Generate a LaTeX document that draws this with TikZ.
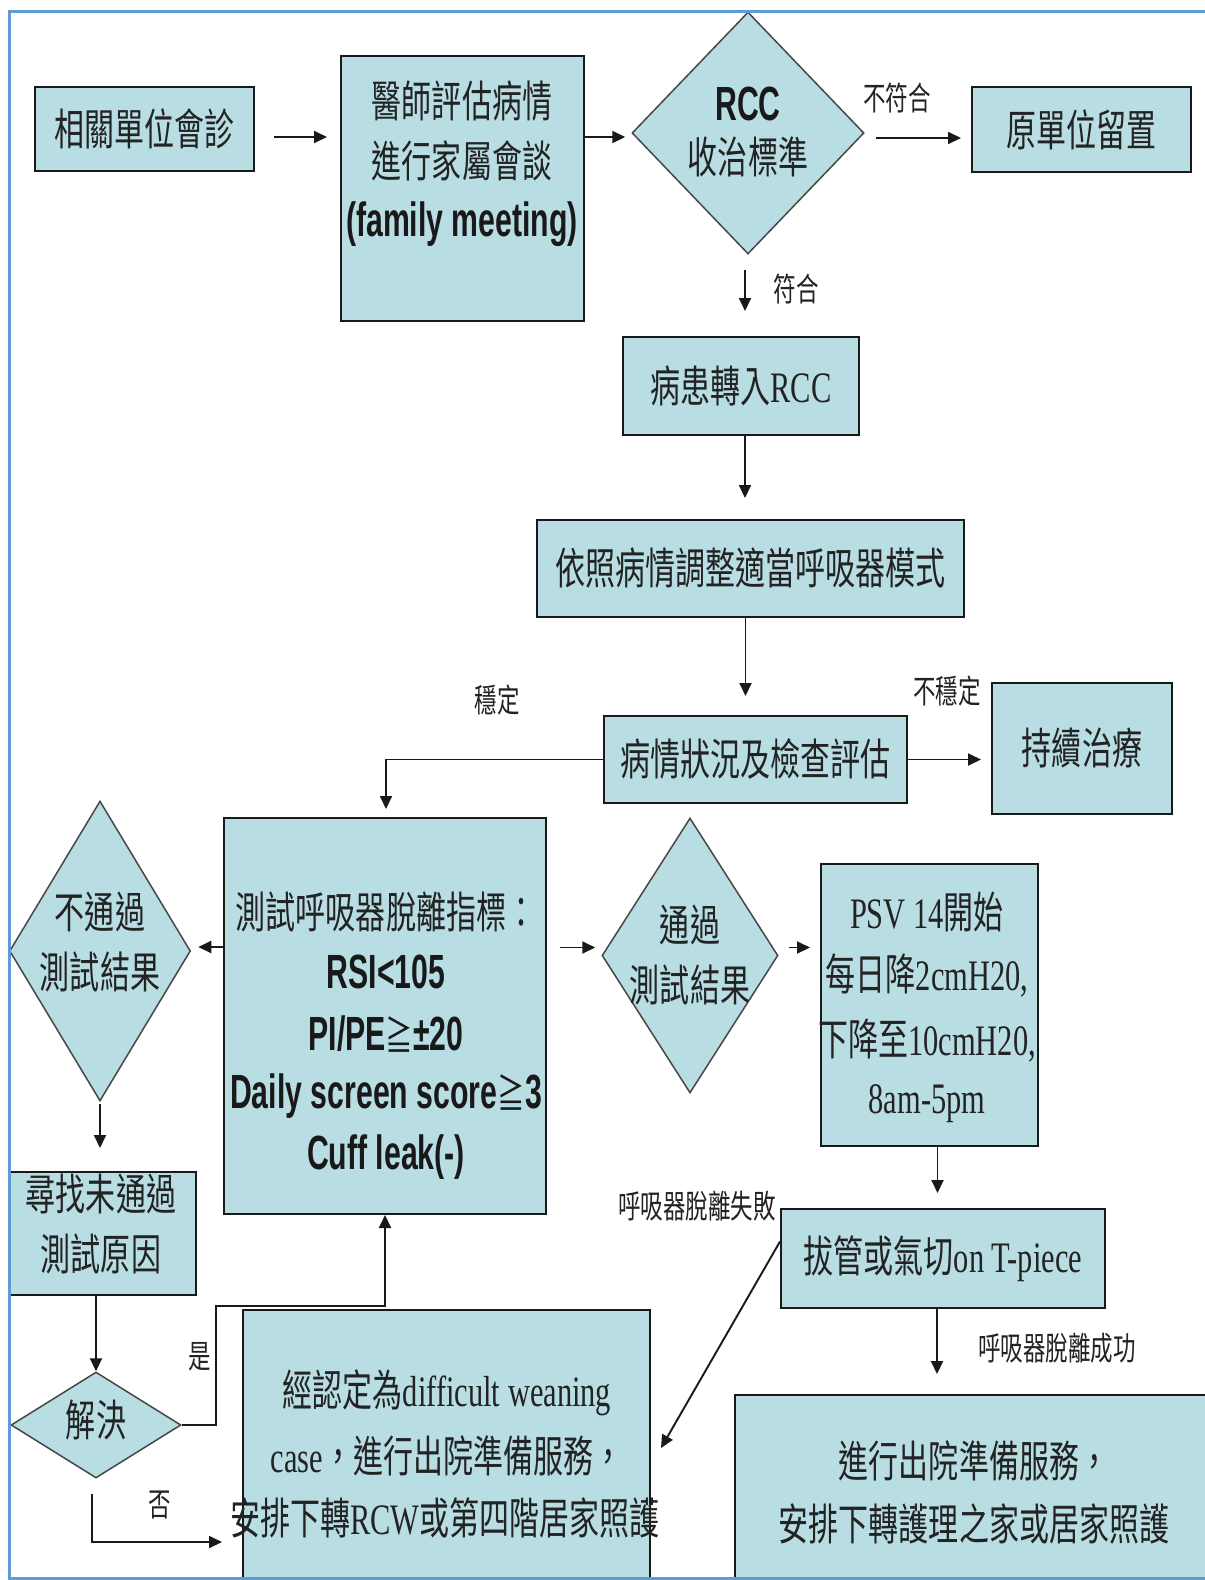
\documentclass[tikz,border=0pt]{standalone}
\usepackage{fontspec}
\setmainfont{Liberation Serif}
\newfontfamily\cjk{Noto Sans CJK TC}[FakeStretch=0.69]
\newfontfamily\latn{Liberation Serif}[FakeStretch=0.7]
\newfontfamily\sanb{Liberation Sans}[FakeStretch=0.63]
\usetikzlibrary{arrows.meta,shapes.geometric,calc}
\definecolor{boxfill}{RGB}{184,222,228}
\definecolor{framec}{RGB}{95,155,215}
\definecolor{ink}{RGB}{25,25,25}
\definecolor{txtc}{RGB}{35,35,35}
\newcommand{\fMain}{\fontsize{43.5}{62}\selectfont}
\newcommand{\fSans}{\fontsize{48}{62}\selectfont}
\newcommand{\fLab}{\fontsize{32.6}{40}\selectfont}
\newcommand{\geqc}{{\cjk\mdseries\fontsize{40}{62}\selectfont ≧}}
\begin{document}
\begin{tikzpicture}[x=1pt,y=-1pt,
  box/.style={draw=ink, line width=2pt, fill=boxfill, rectangle, inner sep=0, text=txtc},
  dia/.style={draw=ink!80, line width=1.5pt, fill=boxfill, diamond, inner sep=0},
  tx/.style={inner sep=0, text=txtc, font=\cjk\fMain},
  sx/.style={inner sep=0, text=ink, font=\sanb\bfseries\fSans},
  lb/.style={inner sep=0, text=txtc, font=\cjk\fLab},
  arr/.style={draw=ink, line width=1.9pt, -{Triangle[length=13pt,width=12pt]}}]
\useasboundingbox (0,0) rectangle (1205,1580);
\fill[white] (0,0) rectangle (1205,1580);

% shapes
\node[box, minimum width=219pt, minimum height=84pt, font=\cjk\fMain] (n1) at (144.5,129) {相關單位會診};
\node[box, minimum width=243pt, minimum height=265pt] (n2) at (462.5,188.5) {};
\node[dia, minimum width=232pt, minimum height=242pt] (d1) at (748,133) {};
\node[box, minimum width=219pt, minimum height=85pt, font=\cjk\fMain] (n4) at (1081.5,129.5) {原單位留置};
\node[box, minimum width=236pt, minimum height=98pt, font=\cjk\fMain] (n6) at (741,386) {病患轉入{\latn RCC}};
\node[box, minimum width=427pt, minimum height=97pt, font=\cjk\fMain] (n8) at (750.5,568.5) {依照病情調整適當呼吸器模式};
\node[box, minimum width=303pt, minimum height=87pt, font=\cjk\fMain] (n10) at (755.5,759.5) {病情狀況及檢查評估};
\node[box, minimum width=180pt, minimum height=131pt, font=\cjk\fMain] (n11) at (1082,748.5) {持續治療};
\node[box, minimum width=322pt, minimum height=396pt] (n13) at (385,1016) {};
\node[dia, minimum width=181pt, minimum height=300pt] (d2) at (100,951) {};
\node[dia, minimum width=176pt, minimum height=275pt] (d3) at (690,955.5) {};
\node[box, minimum width=217pt, minimum height=282pt] (n24) at (929.5,1005) {};
\node[box, minimum width=186pt, minimum height=123pt] (n16) at (103,1233.5) {};
\node[dia, minimum width=170pt, minimum height=106pt] (d4) at (96,1425) {};
\node[box, minimum width=324pt, minimum height=99pt, font=\cjk\fMain] (n26) at (943,1258.5) {拔管或氣切{\latn on T-piece}};
\node[box, minimum width=407pt, minimum height=290pt] (n21) at (446.5,1455) {};
\node[box, minimum width=490pt, minimum height=215pt] (n28) at (980,1502.5) {};

% texts
\node[tx] (t2a) at (462,101) {醫師評估病情};
\node[tx] (t2b) at (462,161) {進行家屬會談};
\node[sx] (t2c) at (462,224) {(family meeting)};
\node[sx] (t3a) at (748,104) {RCC};
\node[tx] (t3b) at (748,157) {收治標準};
\node[tx] (t13a) at (386,912) {測試呼吸器脫離指標：};
\node[sx] (t13b) at (386,972) {RSI<105};
\node[sx] (t13c) at (386,1034) {PI/PE\geqc±20};
\node[sx] (t13d) at (386,1096) {Daily screen score\geqc3};
\node[sx] (t13e) at (386,1157) {Cuff leak(-)};
\node[tx] (t14a) at (100,912) {不通過};
\node[tx] (t14b) at (100,972) {測試結果};
\node[tx] (t23a) at (690,925) {通過};
\node[tx] (t23b) at (690,985) {測試結果};
\node[tx] (t24a) at (927,912) {{\latn PSV 14}開始};
\node[tx] (t24b) at (927,975) {每日降{\latn 2cmH20,}};
\node[tx] (t24c) at (927,1041) {下降至{\latn 10cmH20,}};
\node[tx] (t24d) at (927,1104) {{\latn 8am-5pm}};
\node[tx] (t16a) at (101,1194) {尋找未通過};
\node[tx] (t16b) at (101,1254) {測試原因};
\node[tx] (t18) at (96,1420) {解決};
\node[tx] (t21a) at (447,1393) {經認定為{\latn difficult weaning}};
\node[tx] (t21b) at (447,1456) {{\latn case}，進行出院準備服務，};
\node[tx] (t21c) at (445,1518) {安排下轉{\latn RCW}或第四階居家照護};
\node[tx] (t28a) at (974,1461) {進行出院準備服務，};
\node[tx] (t28b) at (974,1524) {安排下轉護理之家或居家照護};

% labels
\node[lb] (l1) at (897,98) {不符合};
\node[lb] (l2) at (796,289) {符合};
\node[lb] (l3) at (947,691) {不穩定};
\node[lb] (l4) at (497,700) {穩定};
\node[lb] (l5) at (697,1206) {呼吸器脫離失敗};
\node[lb] (l6) at (1057,1348) {呼吸器脫離成功};
\node[lb] (l7) at (200,1357) {是};
\node[lb] (l8) at (160,1505) {否};

% connectors
\draw[arr] ($(n1.east)+(19,8)$) -- ($(n1.east -| n2.west)+(-13,8)$);
\draw[arr] ($(n2.east |- d1.west)+(0,4)$) -- ($(d1.west)+(-6,4)$);
\draw[arr] ($(d1.east)+(11,5)$) -- ($(d1.east -| n4.west)+(-10,5)$);
\draw[arr] ($(d1.south)+(-3,15)$) -- ($(d1.south |- n6.north)+(-3,-25)$);
\draw[arr] ($(n6.south)+(4,0)$) -- ($(n6.south |- n8.north)+(4,-21)$);
\draw[arr] ($(n8.south)+(-5,0)$) -- ($(n8.south |- n10.north)+(-5,-19)$);
\draw[arr] (n10.east) -- ($(n10.east -| n11.west)+(-10,0)$);
\draw[arr] (n10.west) -| ($(n13.north)+(1,-8)$);
\draw[arr] ($(n13.west |- d2.east)+(0,-4)$) -- ($(d2.east)+(7,-4)$);
\draw[arr] ($(n13.east |- d3.west)+(13,-8)$) -- ($(d3.west)+(-6,-8)$);
\draw[arr] ($(d3.east)+(10,-8)$) -- ($(d3.east -| n24.west)+(-10,-8)$);
\draw[arr] ($(n24.south)+(8,0)$) -- ($(n24.south |- n26.north)+(8,-15)$);
\draw[arr] ($(n26.south)+(-6,0)$) -- ($(n26.south |- n28.north)+(-6,-20)$);
\draw[arr] ($(n26.west)+(0,-17)$) -- ($(n21.east)+(10,-7)$);
\draw[arr] ($(d2.south)+(0,2)$) -- ($(d2.south |- n16.north)+(0,-23)$);
\draw[arr] (n16.south -| d4.north) -- (d4.north);
\draw[arr] (d4.east) -- ($(d4.east)+(34,0)$) |- ($(n13.south)+(0,91)$) -- (n13.south);
\draw[arr] ($(d4.south)+(-4,15)$) |- ($(n21.west)+(-20,87)$);

% frame
\draw[framec, line width=3pt] (1220,11) -- (9,11) -- (9,1578) -- (1220,1578);
\end{tikzpicture}
\end{document}
